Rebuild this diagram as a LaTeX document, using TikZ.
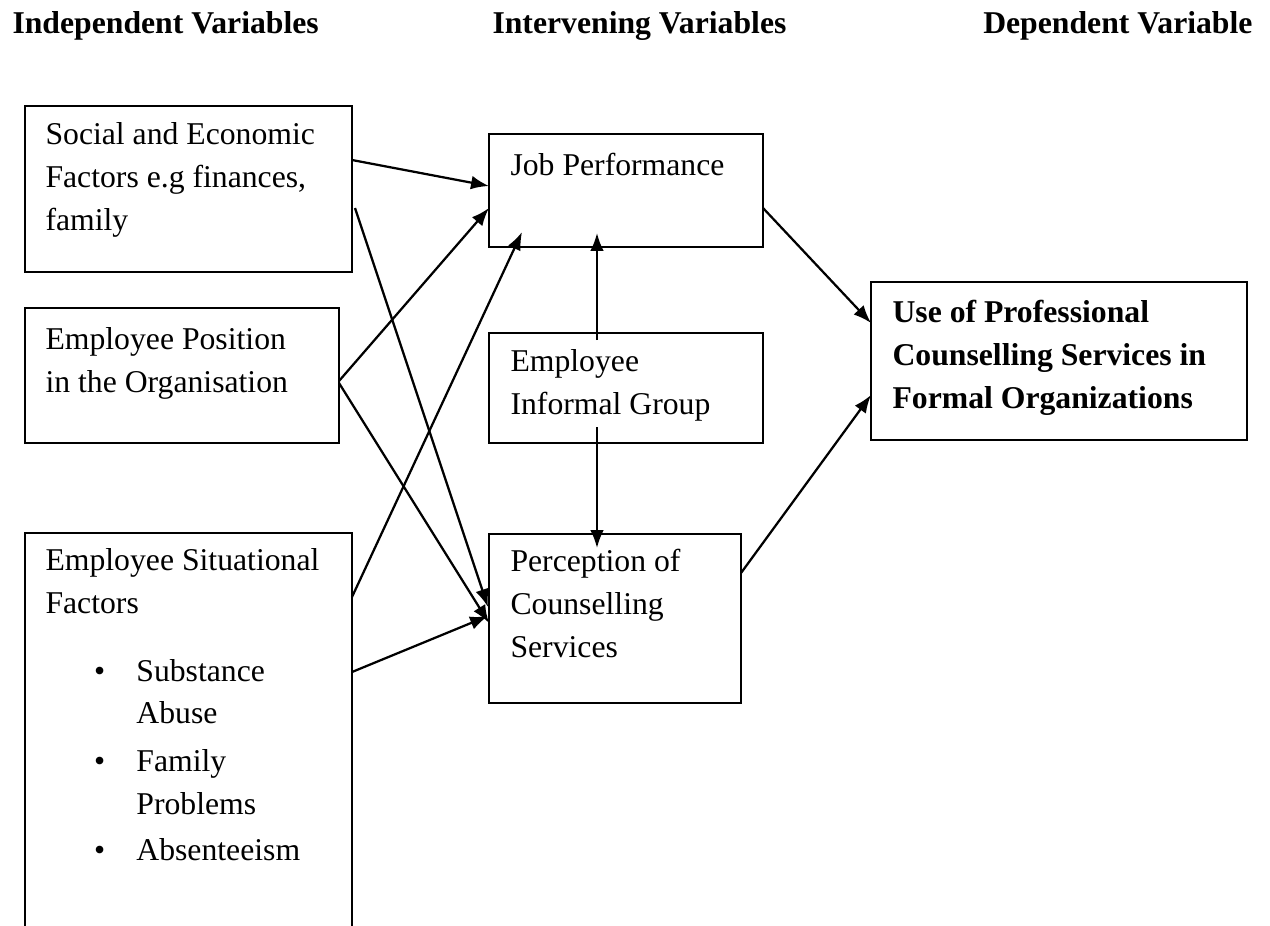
\documentclass[tikz,border=0pt]{standalone}
\usepackage{fontspec}
\setmainfont{Liberation Serif}
\usetikzlibrary{arrows.meta,calc}
\begin{document}
\begin{tikzpicture}[x=0.3785pt,y=-0.3785pt,
  box/.style={draw, line width=0.75pt, anchor=north west, inner sep=0pt, outer sep=0pt},
  bx/.style 2 args={box, minimum width={#1*0.3785pt}, minimum height={#2*0.3785pt}},
  txt/.style={anchor=base west, align=left, inner sep=0pt, font=\fontsize{12}{16.1}\selectfont},
  head/.style={inner sep=0pt, font=\fontsize{12}{16.1}\selectfont\bfseries},
  arr/.style={line width=0.85pt, -{Latex[length=6.8pt,width=5.2pt]}}]
\useasboundingbox (0,0) rectangle (1270,925);
\clip (0,0) rectangle (1270,925);

% headings
\node[head, anchor=base west] (h1) at (12,33) {Independent Variables};
\node[head, anchor=base west] (h2) at (492,33) {Intervening Variables};
\node[head, anchor=base east] (h3) at (1253,33) {Dependent Variable};

% boxes
\node[bx={327}{166}] (A) at (25,106) {};
\node[bx={314}{135}] (B) at (25,308) {};
\node[bx={327}{440}] (C) at (25,533) {};
\node[bx={274}{113}] (JP) at (489,134) {};
\node[bx={274}{110}] (IG) at (489,333) {};
\node[bx={252}{169}] (PC) at (489,534) {};
\node[bx={376}{158}] (R) at (871,282) {};

% texts (anchored at the baseline of their last line)
\node[txt] (At) at (45,230) {Social and Economic\\Factors e.g finances,\\family};
\node[txt] (Bt) at (45,392) {Employee Position\\in the Organisation};
\node[txt] (Ct) at (45,860) {Employee Situational\\Factors\\[9.6pt]
\hspace*{18.4pt}\makebox[16pt][l]{\textbullet}Substance\\
\hspace*{34.4pt}Abuse\\[2pt]
\hspace*{18.4pt}\makebox[16pt][l]{\textbullet}Family\\
\hspace*{34.4pt}Problems\\[1.2pt]
\hspace*{18.4pt}\makebox[16pt][l]{\textbullet}Absenteeism};
\node[txt] (JPt) at (510,175) {Job Performance};
\node[txt] (IGt) at (510,414) {Employee\\Informal Group};
\node[txt] (PCt) at (510,657) {Perception of\\Counselling\\Services};
\node[txt, font=\fontsize{12}{16.1}\selectfont\bfseries] (Rt) at (892,408) {Use of Professional\\Counselling Services in\\Formal Organizations};

% connectors
\draw[arr] ($(A.north east)+(0,54)$) -- ($(JP.north west)+(0,52)$);
\draw[arr] ($(A.north east)+(3,102)$) -- ($(PC.north west)+(-1,73)$);
\draw[arr] ($(B.north east)+(0,73)$) -- ($(JP.north west)+(0,74)$);
\draw[arr] ($(B.north east)+(0,75)$) -- ($(PC.north west)+(0,89)$);
\draw[arr] ($(C.north east)+(0,64)$) -- ($(JP.south west)+(33,-15)$);
\draw[arr] ($(C.north east)+(0,139)$) -- ($(PC.north west)+(-1,82)$);
\draw[arr] ($(IG.north west)+(108,7)$) -- ($(JP.south west)+(108,-14)$);
\draw[arr] ($(IG.south west)+(108,-16)$) -- ($(PC.north west)+(108,14)$);
\draw[arr] ($(JP.north east)+(0,74)$) -- ($(R.north west)+(0,41)$);
\draw[arr] ($(PC.north east)+(0,39)$) -- ($(R.north west)+(0,113)$);
\end{tikzpicture}
\end{document}
